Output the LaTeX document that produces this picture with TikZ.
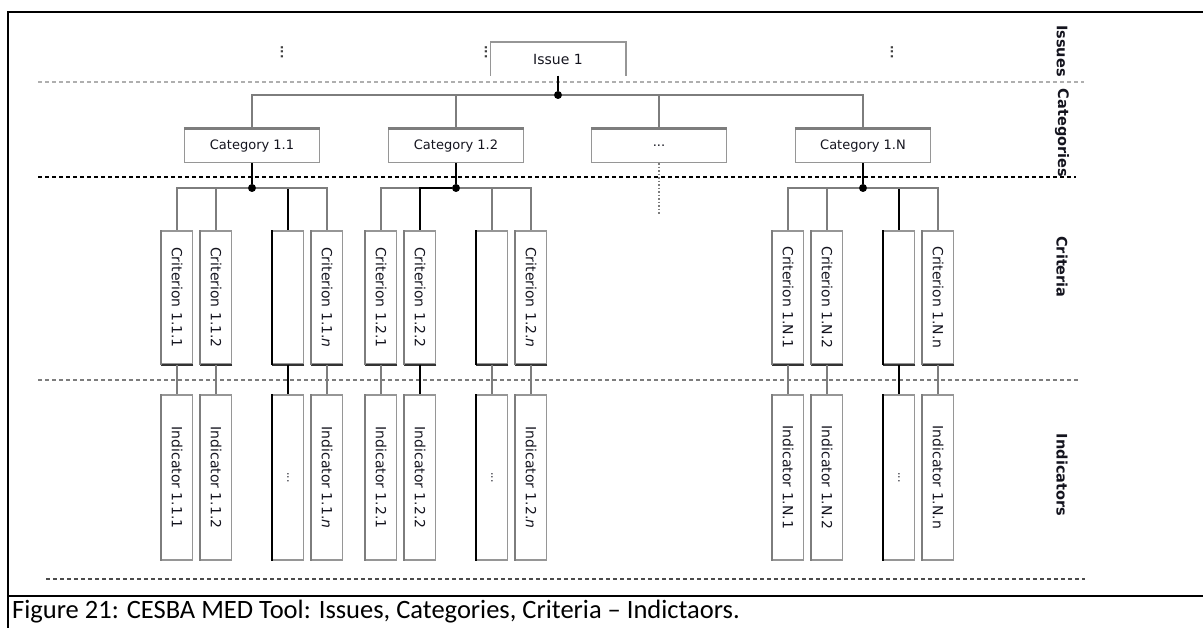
\documentclass[tikz,border=0pt]{standalone}
\usepackage{fontspec}
\setmainfont{DejaVu Sans}
\newfontfamily\captionfont{Carlito}

\definecolor{linegray}{RGB}{125,125,125}
\definecolor{boxgray}{RGB}{150,150,150}
\definecolor{dashgray}{RGB}{175,175,175}
\definecolor{textdark}{RGB}{20,20,30}

\tikzset{
  catbox/.style={draw=boxgray, line width=1.5pt, minimum width=135pt, minimum height=33pt,
    inner sep=0pt, text=textdark, font=\fontsize{13}{15}\selectfont},
  critbox/.style={draw=boxgray, line width=1.5pt, rotate=-90, minimum width=133pt,
    minimum height=31pt, inner sep=0pt, text=textdark, font=\fontsize{14}{16}\selectfont},
  indbox/.style={critbox, minimum width=165pt},
  jdot/.style={circle, fill=black, inner sep=0pt, minimum size=8pt},
  link/.style={line width=1.5pt, draw=linegray},
  levelline/.style={dash pattern=on 4pt off 3pt, line width=1.5pt},
  levelname/.style={rotate=-90, inner sep=0pt, text=textdark, font=\bfseries\fontsize{14.5}{16}\selectfont},
  gap/.style={rotate=-90, inner sep=0pt, text=gray!50!black, font=\bfseries\fontsize{12}{14}\selectfont}
}

\begin{document}
\begin{tikzpicture}[x=1pt, y=-1pt]
\useasboundingbox (0,0) rectangle (1203,628);

% frame and caption
\draw[line width=2.5pt] (8,628) -- (8,12) -- (1203,12);
\draw[line width=2.5pt] (8,596) -- (1203,596);
\node[anchor=west, inner sep=0pt, font=\captionfont\fontsize{26.5}{30}\selectfont] (caption) at (12,612)
  {Figure 21: CESBA MED Tool: Issues, Categories, Criteria – Indictaors.};

% level separators
\draw[levelline, dashgray] (38,82) -- (1084,82);
\draw[levelline, black] (38,177) -- (1076,177);
\draw[levelline, linegray] (38,380) -- (1078,380);
\draw[levelline, black!70] (46,579) -- (1085,579);

\node[levelname] (lissues) at (1062,51) {Issues};
\node[levelname] (lcat) at (1062,133) {Categories};
\node[levelname] (lcrit) at (1062,267) {Criteria};
\node[levelname] (lind) at (1062,475) {Indicators};

% issue
\node[gap] (gap1) at (282,52) {...};
\node[gap] (gap2) at (486,52) {...};
\node[gap] (gap3) at (892,52) {...};
\node[catbox, draw=none, minimum width=134pt, minimum height=32pt, font=\fontsize{14}{16}\selectfont] (issue) at (558,59) {Issue 1};
\draw[boxgray, line width=1.5pt] (issue.south west) |- (issue.north east) -- (issue.south east);
\node[jdot] (j0) at (558,95) {};
\draw[link, black] (issue) -- (j0);

% categories
\node[catbox] (c1) at (252,146) {Category 1.1};
\node[catbox] (c2) at (456,146) {Category 1.2};
\node[catbox] (c3) at (659,146) {...};
\node[catbox] (cN) at (863,146) {Category 1.N};
\foreach \c in {c1,c2,c3,cN} {
  \draw[link] (j0) -| (\c);
  \draw[line width=2.5pt, linegray] (\c.north west) -- (\c.north east);
}
\coordinate (c3end) at (659,215);
\draw[link, dotted] (c3) -- (c3end);

% criteria and indicators
\foreach \c/\x/\g/\dk/\nn in {c1/252/1/3/\textit{n}, c2/456/2/2/\textit{n}, cN/863/N/3/n} {
  \node[jdot] (d\g) at (\x,188) {};
  \draw[link, black] (\c) -- (d\g);
  \foreach \i/\dx/\txt in {1/-75/1, 2/-36/2, 3/36/, 4/75/\nn} {
    \ifnum\i=\dk \def\lc{black}\else\def\lc{linegray}\fi
    \ifnum\i=3 \def\ec{black}\else\def\ec{linegray}\fi
    \node[critbox] (cr\g\i) at (\x+\dx,297.5) {\ifnum\i=3 \else Criterion 1.\g.\txt\fi};
    \node[indbox] (in\g\i) at (\x+\dx,477.5)
      {\ifnum\i=3 {\fontsize{11}{12}\selectfont ...}\else Indicator 1.\g.\txt\fi};
    \draw[line width=2pt, black!80] (cr\g\i.north east) -- (cr\g\i.south east);
    \draw[line width=1.5pt, \ec] (cr\g\i.south west) -- (cr\g\i.south east);
    \draw[line width=1.5pt, \ec] (in\g\i.south west) -- (in\g\i.south east);
    \draw[link, draw=\lc] (d\g) -| (cr\g\i);
    \draw[link, draw=\lc] (cr\g\i) -- (in\g\i);
  }
}

\end{tikzpicture}
\end{document}
